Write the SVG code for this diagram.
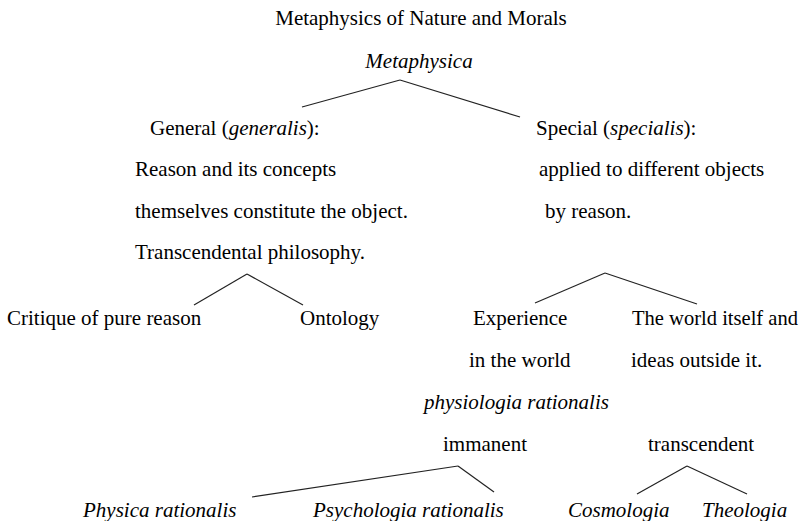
<svg xmlns="http://www.w3.org/2000/svg" width="803" height="521" viewBox="0 0 803 521">
<style>
text{font-family:"Liberation Serif","Times New Roman",serif;font-size:21px;fill:#000}
.i{font-style:italic}
.c{text-anchor:middle}
.conn line{stroke:#222;stroke-width:1.2;fill:none}
</style>
<rect width="803" height="521" fill="#fff"/>
<g id="connectors" class="conn">
<line x1="302" y1="107" x2="400" y2="80"/>
<line x1="400" y1="80" x2="520" y2="117"/>
<line x1="247" y1="274" x2="194" y2="305"/>
<line x1="247" y1="274" x2="303" y2="305"/>
<line x1="605" y1="273" x2="535" y2="303"/>
<line x1="605" y1="273" x2="697" y2="304"/>
<line x1="458" y1="466" x2="252" y2="497"/>
<line x1="458" y1="466" x2="494" y2="492"/>
<line x1="687" y1="466" x2="637" y2="494"/>
<line x1="687" y1="466" x2="747" y2="494"/>
</g>
<g id="title"><text x="421" y="25" class="c">Metaphysics of Nature and Morals</text></g>
<g id="metaphysica"><text x="419" y="68" class="c i">Metaphysica</text></g>
<g id="general">
<text x="150" y="135">General (<tspan class="i">generalis</tspan>):</text>
<text x="135" y="176">Reason and its concepts</text>
<text x="135" y="218">themselves constitute the object.</text>
<text x="135" y="259">Transcendental philosophy.</text>
</g>
<g id="special">
<text x="536" y="135">Special (<tspan class="i">specialis</tspan>):</text>
<text x="539" y="176">applied to different objects</text>
<text x="545" y="218">by reason.</text>
</g>
<g id="critique"><text x="7" y="325">Critique of pure reason</text></g>
<g id="ontology"><text x="300" y="325">Ontology</text></g>
<g id="experience">
<text x="473" y="325">Experience</text>
<text x="469" y="367">in the world</text>
<text x="424" y="409" class="i">physiologia rationalis</text>
<text x="443" y="451">immanent</text>
</g>
<g id="world">
<text x="632" y="325" textLength="166" lengthAdjust="spacingAndGlyphs">The world itself and</text>
<text x="631" y="367">ideas outside it.</text>
<text x="648" y="451">transcendent</text>
</g>
<g id="physica"><text x="83" y="517" class="i">Physica rationalis</text></g>
<g id="psychologia"><text x="313" y="517" class="i">Psychologia rationalis</text></g>
<g id="cosmologia"><text x="568" y="517" class="i">Cosmologia</text></g>
<g id="theologia"><text x="702" y="517" class="i">Theologia</text></g>
</svg>
